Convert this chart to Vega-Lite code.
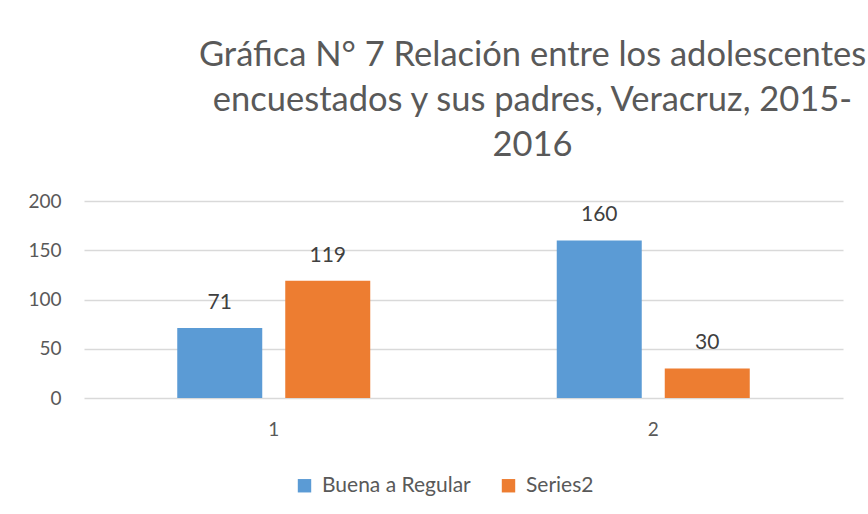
{
  "$schema": "https://vega.github.io/schema/vega-lite/v6.json",
  "autosize": "none",
  "width": 759,
  "height": 197,
  "padding": {"left": 84, "top": 201, "right": 25, "bottom": 116},
  "background": "white",
  "config": {
    "font": "Lato",
    "view": {"stroke": null},
    "axis": {"labelColor": "#595959", "labelFont": "Lato", "domain": false, "ticks": false}
  },
  "title": {
    "text": ["Gráfica N° 7 Relación entre los adolescentes", "encuestados y sus padres, Veracruz, 2015-", "2016"],
    "fontSize": 34.5,
    "lineHeight": 45,
    "font": "Lato",
    "fontWeight": "normal",
    "color": "#595959",
    "anchor": "middle",
    "frame": "group",
    "dx": 69,
    "offset": 29
  },
  "data": {
    "values": [
      {"grupo": "1", "serie": "Buena a Regular", "valor": 71},
      {"grupo": "1", "serie": "Series2", "valor": 119},
      {"grupo": "2", "serie": "Buena a Regular", "valor": 160},
      {"grupo": "2", "serie": "Series2", "valor": 30}
    ]
  },
  "encoding": {
    "x": {
      "field": "grupo", "type": "nominal",
      "scale": {"paddingInner": 0, "paddingOuter": 0},
      "axis": {"title": null, "labelAngle": 0, "labelFontSize": 19, "labelPadding": 22, "grid": false}
    },
    "xOffset": {
      "field": "serie", "type": "nominal",
      "sort": ["Buena a Regular", "Series2"],
      "scale": {"paddingInner": 0.213, "paddingOuter": 0.8634}
    },
    "y": {
      "field": "valor", "type": "quantitative",
      "scale": {"domain": [0, 200], "nice": false},
      "axis": {"title": null, "values": [0, 50, 100, 150, 200], "labelFontSize": 19, "labelPadding": 23, "gridColor": "#D9D9D9", "gridWidth": 1.5}
    }
  },
  "layer": [
    {
      "mark": {"type": "bar"},
      "encoding": {
        "color": {
          "field": "serie", "type": "nominal",
          "sort": ["Buena a Regular", "Series2"],
          "scale": {"domain": ["Buena a Regular", "Series2"], "range": ["#5B9BD5", "#ED7D31"]},
          "legend": {
            "title": null, "orient": "none", "direction": "horizontal",
            "legendX": 210, "legendY": 274,
            "symbolType": "square", "symbolSize": 180, "symbolStrokeWidth": 0,
            "labelFontSize": 21, "labelColor": "#595959", "labelFont": "Lato",
            "columnPadding": 27, "labelOffset": 7
          }
        }
      }
    },
    {
      "mark": {"type": "text", "baseline": "alphabetic", "dy": -19, "fontSize": 21, "color": "#404040", "font": "Lato"},
      "encoding": {"text": {"field": "valor", "type": "quantitative"}}
    }
  ]
}
